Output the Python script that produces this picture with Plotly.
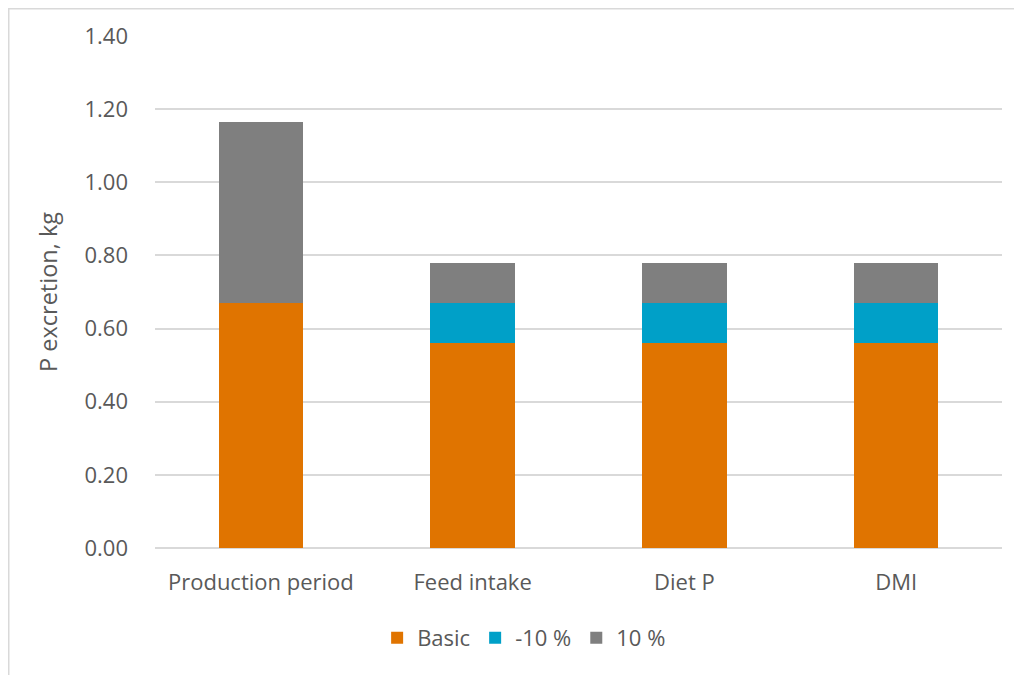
import plotly.graph_objects as go

categories = ["Production period", "Feed intake", "Diet P", "DMI"]
basic = [0.67, 0.56, 0.56, 0.56]
minus10 = [0.0, 0.11, 0.11, 0.11]
plus10 = [0.494, 0.11, 0.11, 0.11]
y_ticks = [0.0, 0.2, 0.4, 0.6, 0.8, 1.0, 1.2, 1.4]

# page has an 8px body margin, so the figure is sized to fit the window
W, H = 1014, 667
L, R, T, B = 147, 20, 28, 127

fig = go.Figure()
fig.add_trace(go.Bar(name="Basic", x=categories, y=basic, marker_color="#E07400",
                     marker_line_width=0))
fig.add_trace(go.Bar(name="-10 %", x=categories, y=minus10, marker_color="#00A0C8",
                     marker_line_width=0))
fig.add_trace(go.Bar(name="10 %", x=categories, y=plus10, marker_color="#7F7F7F",
                     marker_line_width=0))

font = "Open Sans, Noto Sans, sans-serif"
pw, ph = W - L - R, H - T - B

def px_to_paper_x(px):
    return (px - L) / pw

def px_to_paper_y(py):
    return (H - B - py) / ph

fig.update_layout(
    width=W, height=H,
    barmode="stack", bargap=0.6,
    margin=dict(l=L, r=R, t=T, b=B),
    plot_bgcolor="white", paper_bgcolor="white",
    font=dict(family=font, color="#595959", size=22),
    xaxis=dict(showgrid=False, showline=False, ticks="", ticklabelstandoff=19,
               tickfont=dict(size=22, color="#595959")),
    yaxis=dict(range=[0, 1.4], tickvals=y_ticks, tickformat=".2f",
               showgrid=True, gridcolor="#D9D9D9", gridwidth=1.5,
               zeroline=True, zerolinecolor="#D9D9D9", zerolinewidth=1.5,
               ticks="", ticklabelstandoff=26,
               tickfont=dict(size=22, color="#595959"),
               title=dict(text="P excretion, kg", font=dict(size=23.5, color="#595959"),
                          standoff=20)),
    legend=dict(orientation="h", xref="container", yref="container",
                x=0.509, y=1 - 630 / H, xanchor="center", yanchor="middle",
                font=dict(size=22, color="#595959"), traceorder="normal",
                itemwidth=30),
    shapes=[dict(type="rect", xref="paper", yref="paper",
                 x0=px_to_paper_x(0.75), x1=px_to_paper_x(W + 10),
                 y0=px_to_paper_y(H + 10), y1=px_to_paper_y(0.75),
                 line=dict(color="#D9D9D9", width=1.5), layer="below")],
)

fig.write_html("out.html")
